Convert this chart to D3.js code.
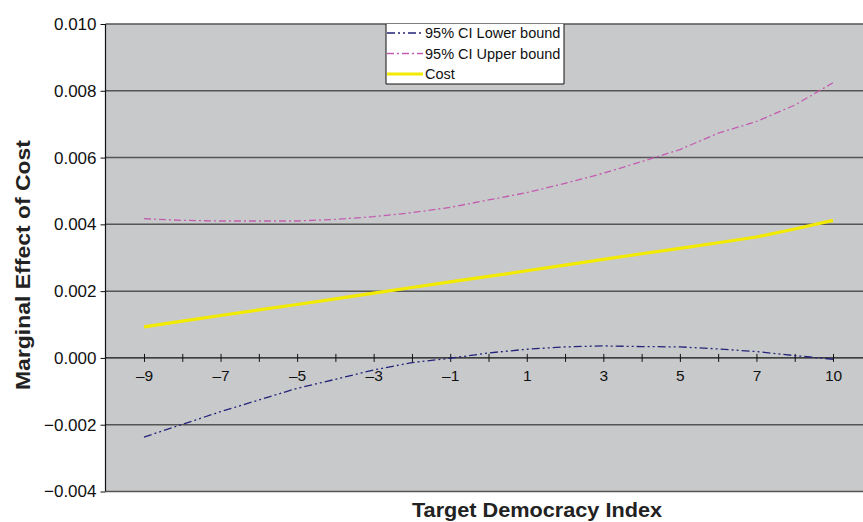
<!DOCTYPE html>
<html>
<head>
<meta charset="utf-8">
<script src="https://cdn.jsdelivr.net/npm/d3@7"></script>
<style>
  html, body { margin: 0; padding: 0; background: #fff; }
  svg { display: block; font-family: "Liberation Sans", Arial, sans-serif; }
</style>
</head>
<body>
<svg id="chart" width="863" height="522"></svg>
<script>
// Democracy index categories on the horizontal axis (9 is not observed)
const categories = [-9, -8, -7, -6, -5, -4, -3, -2, -1, 0, 1, 2, 3, 4, 5, 6, 7, 8, 10];
// Labels shown on every other category
const xTickLabels = [-9, -7, -5, -3, -1, 1, 3, 5, 7, 10];
const yTicks = [-0.004, -0.002, 0.000, 0.002, 0.004, 0.006, 0.008, 0.010];

// Marginal effect of cost and its 95% confidence bounds
const lowerBound = [-0.00237, -0.00199, -0.00161, -0.00126, -0.00091, -0.00064, -0.00036, -0.00014, -0.00001,
                    0.00015, 0.00026, 0.00033, 0.00036, 0.00034, 0.00033, 0.00027, 0.00019, 0.00007, -0.00004];
const upperBound = [0.00417, 0.00412, 0.00410, 0.00410, 0.00410, 0.00415, 0.00423, 0.00435, 0.00451,
                    0.00473, 0.00495, 0.00523, 0.00553, 0.00588, 0.00624, 0.00673, 0.00708, 0.00757, 0.00824];
const cost = [0.00093, 0.00110, 0.00127, 0.00144, 0.00160, 0.00177, 0.00194, 0.00211, 0.00228,
              0.00244, 0.00261, 0.00278, 0.00295, 0.00312, 0.00328, 0.00345, 0.00362, 0.00386, 0.00412];

const seriesNames = ["95% CI Lower bound", "95% CI Upper bound", "Cost"];

const svg = d3.select("#chart");
const plot = { left: 105.5, top: 24, right: 870, bottom: 491.5 };
const firstPt = 144, lastPt = 833;

const fmtMinus = s => s.replace(/^-/, "\u2013");

const x = d3.scalePoint().domain(categories).range([firstPt, lastPt]);
const y = d3.scaleLinear().domain([-0.004, 0.010]).range([plot.bottom, plot.top]);

// plot background
svg.append("rect")
  .attr("x", plot.left).attr("y", plot.top)
  .attr("width", plot.right - plot.left).attr("height", plot.bottom - plot.top)
  .attr("fill", "#c8c9cb");

// horizontal gridlines
svg.append("g").selectAll("line")
  .data(yTicks.filter(v => v !== 0))
  .join("line")
  .attr("x1", plot.left).attr("x2", plot.right)
  .attr("y1", d => y(d)).attr("y2", d => y(d))
  .attr("stroke", "#555")
  .attr("stroke-width", 1.5);

// y axis
const yAxis = svg.append("g")
  .attr("transform", `translate(${plot.left},0)`)
  .call(d3.axisLeft(y).tickValues(yTicks).tickSize(5).tickPadding(4)
        .tickFormat(d => fmtMinus(d3.format(".3f")(d))));
yAxis.select(".domain").attr("stroke", "#111").attr("stroke-width", 1.2)
  .attr("d", `M0,${plot.top}V${plot.bottom}`);
yAxis.selectAll(".tick line").attr("stroke", "#111");
yAxis.selectAll("text").attr("font-size", 17).attr("fill", "#111")
  .attr("font-family", "Liberation Sans, Arial, sans-serif");

// x axis drawn along zero, ticks crossing the line
const xAxis = svg.append("g")
  .attr("transform", `translate(0,${y(0)})`)
  .call(d3.axisBottom(x).tickSize(0).tickPadding(0)
        .tickFormat(d => xTickLabels.includes(d) ? fmtMinus(String(d)) : ""));
xAxis.select(".domain").attr("stroke", "#111").attr("stroke-width", 1.3)
  .attr("d", `M${plot.left},0H${plot.right}`);
xAxis.selectAll(".tick").append("line")
  .attr("y1", -4).attr("y2", 4).attr("stroke", "#111").attr("stroke-width", 1);
xAxis.selectAll(".tick text")
  .attr("y", 23.5).attr("dy", 0)
  .attr("font-size", 15.5).attr("fill", "#111")
  .attr("font-family", "Liberation Sans, Arial, sans-serif");

// series lines
const line = d3.line().x((d, i) => x(categories[i])).y(d => y(d));
const styles = [
  { data: lowerBound, color: "#23237a", width: 1.3, dash: "8,3,2,3,2,3" },
  { data: upperBound, color: "#c35cb0", width: 1.3, dash: "7,3,2,3" },
  { data: cost, color: "#f2ea00", width: 3.2, dash: null }
];
styles.forEach(s => {
  svg.append("path")
    .datum(s.data)
    .attr("d", line)
    .attr("fill", "none")
    .attr("stroke", s.color)
    .attr("stroke-width", s.width)
    .attr("stroke-dasharray", s.dash);
});

// legend
const lg = { x: 386, y: 24, w: 178, h: 60 };
svg.append("rect").attr("x", lg.x).attr("y", lg.y).attr("width", lg.w).attr("height", lg.h).attr("fill", "#fff");
svg.append("path")
  .attr("d", `M${lg.x},${lg.y}V${lg.y + lg.h}H${lg.x + lg.w}V${lg.y}`)
  .attr("fill", "none").attr("stroke", "#111").attr("stroke-width", 1);
seriesNames.forEach((name, i) => {
  const cy = 33 + i * 20.5;
  const s = styles[i];
  svg.append("line")
    .attr("x1", lg.x + 1).attr("x2", lg.x + 37).attr("y1", cy).attr("y2", cy)
    .attr("stroke", s.color).attr("stroke-width", s.width).attr("stroke-dasharray", s.dash);
  svg.append("text")
    .attr("x", lg.x + 39).attr("y", cy + 5)
    .attr("font-size", 14.5).attr("fill", "#111")
    .text(name);
});

// axis titles
svg.append("text")
  .attr("x", 537).attr("y", 517)
  .attr("text-anchor", "middle")
  .attr("font-size", 20).attr("font-weight", "bold").attr("fill", "#222")
  .attr("textLength", 250).attr("lengthAdjust", "spacingAndGlyphs")
  .text("Target Democracy Index");
svg.append("text")
  .attr("transform", `translate(30,265) rotate(-90)`)
  .attr("text-anchor", "middle")
  .attr("font-size", 20).attr("font-weight", "bold").attr("fill", "#222")
  .attr("textLength", 250).attr("lengthAdjust", "spacingAndGlyphs")
  .text("Marginal Effect of Cost");
</script>
</body>
</html>
